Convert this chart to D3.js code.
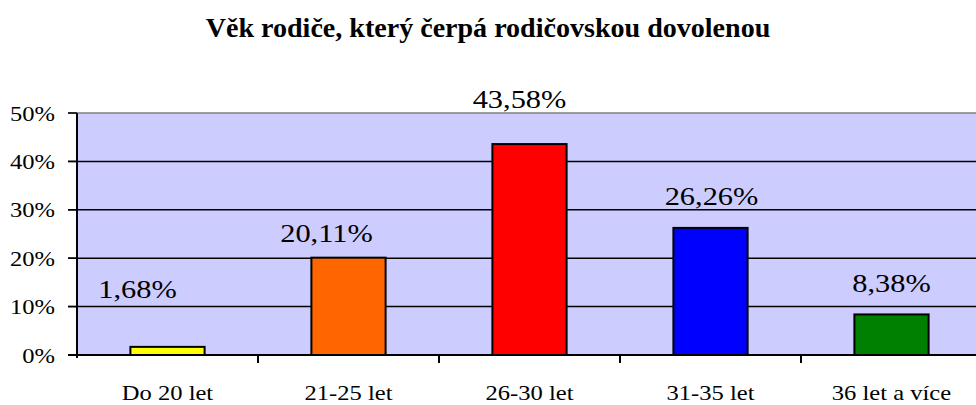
<!DOCTYPE html>
<html>
<head>
<meta charset="utf-8">
<script src="https://cdn.jsdelivr.net/npm/d3@7"></script>
<style>
  body { margin: 0; background: #fff; }
  svg { display: block; }
  svg text { font-family: 'Liberation Serif', 'Times New Roman', Times, 'DejaVu Serif', serif; }
</style>
</head>
<body>
<svg id="chart" width="976" height="405"></svg>
<script>
const title = 'Věk rodiče, který čerpá rodičovskou dovolenou';
const categories = ['Do 20 let', '21-25 let', '26-30 let', '31-35 let', '36 let a více'];
const values = [1.68, 20.11, 43.58, 26.26, 8.38];
const labels = ['1,68%', '20,11%', '43,58%', '26,26%', '8,38%'];
const barColors = ['#ffff00', '#ff6600', '#ff0000', '#0000ff', '#008000'];
const yTicks = [0, 10, 20, 30, 40, 50];
// label placement as Excel put it (offset from bar centre / bar top, px)
const labelDx = [-30, -22, -10, 1, 0];
const labelDy = [-49, -16, -36, -23, -22];

const svg = d3.select('#chart');
const stretch = 1.17; // source picture is widened horizontally
const serif = "'Liberation Serif', 'Times New Roman', Times, 'DejaVu Serif', serif";

const plot = { left: 77, right: 982, top: 113, bottom: 355 };

const x = d3.scaleBand()
  .domain(categories)
  .range([plot.left, plot.right])
  .paddingInner(0.59)
  .paddingOuter(0.295);

const y = d3.scaleLinear().domain([0, 50]).range([plot.bottom, plot.top]);

// text helper: draws at (px, py) widened by stretch
const addText = (g, px, py, str, size, anchor, weight) =>
  g.append('text')
    .attr('transform', `translate(${px},${py}) scale(${stretch},1)`)
    .attr('text-anchor', anchor)
    .attr('font-family', serif)
    .attr('font-size', size)
    .attr('font-weight', weight || 'normal')
    .attr('fill', '#000')
    .text(str);

// plot background
svg.append('rect')
  .attr('x', plot.left)
  .attr('y', plot.top)
  .attr('width', plot.right - plot.left)
  .attr('height', plot.bottom - plot.top)
  .attr('fill', '#ccccff');

// gridlines + y ticks
const grid = svg.append('g');
yTicks.forEach(t => {
  grid.append('line')
    .attr('x1', plot.left - 9)
    .attr('x2', plot.right)
    .attr('y1', y(t))
    .attr('y2', y(t))
    .attr('stroke', t === 50 ? '#808080' : '#000')
    .attr('stroke-width', t === 0 ? 2 : 1.5);
  grid.append('line')
    .attr('x1', plot.left - 9)
    .attr('x2', plot.left)
    .attr('y1', y(t))
    .attr('y2', y(t))
    .attr('stroke', '#000')
    .attr('stroke-width', 1.5);
});

// y axis line
svg.append('line')
  .attr('x1', plot.left).attr('x2', plot.left)
  .attr('y1', plot.top).attr('y2', plot.bottom + 3)
  .attr('stroke', '#000').attr('stroke-width', 2);

// x axis ticks between categories
const step = x.step();
d3.range(1, categories.length).forEach(i => {
  const tx = plot.left + step * i;
  svg.append('line')
    .attr('x1', tx).attr('x2', tx)
    .attr('y1', plot.bottom).attr('y2', plot.bottom + 8)
    .attr('stroke', '#000').attr('stroke-width', 2);
});

// bars
svg.append('g')
  .selectAll('rect')
  .data(values)
  .join('rect')
  .attr('x', (d, i) => x(categories[i]))
  .attr('y', d => y(d))
  .attr('width', x.bandwidth())
  .attr('height', d => y(0) - y(d))
  .attr('fill', (d, i) => barColors[i])
  .attr('stroke', '#000')
  .attr('stroke-width', 2);

// re-draw the axis line over the bar bottoms
svg.append('line')
  .attr('x1', plot.left - 9).attr('x2', plot.right)
  .attr('y1', plot.bottom).attr('y2', plot.bottom)
  .attr('stroke', '#000').attr('stroke-width', 2);

const txt = svg.append('g');

// y tick labels
yTicks.forEach(t => addText(txt, 55, y(t) + 7.5, t + '%', 21, 'end'));

// category labels
categories.forEach(c => addText(txt, x(c) + x.bandwidth() / 2, 400, c, 21, 'middle'));

// value labels
values.forEach((v, i) => {
  const cx = x(categories[i]) + x.bandwidth() / 2 + labelDx[i];
  addText(txt, cx, y(v) + labelDy[i], labels[i], 26, 'middle');
});

// title
const t = svg.append('text')
  .attr('text-anchor', 'middle')
  .attr('font-family', serif)
  .attr('font-size', 27)
  .attr('font-weight', 'bold')
  .text(title);
const tw = t.node().getComputedTextLength();
const ts = 565 / tw;
t.attr('transform', `translate(488,37) scale(${ts},1)`);
</script>
</body>
</html>
